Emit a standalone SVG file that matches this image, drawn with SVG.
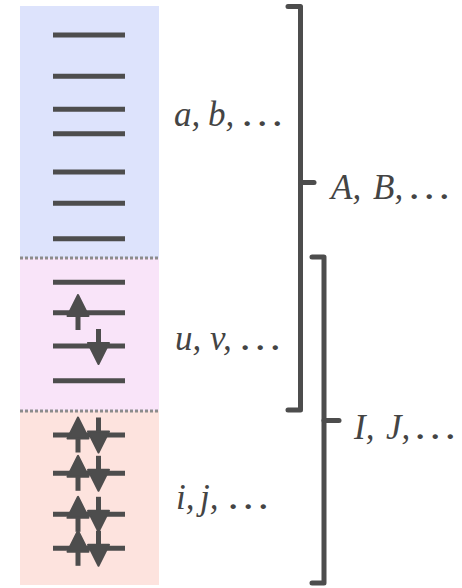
<svg xmlns="http://www.w3.org/2000/svg" xmlns:xlink="http://www.w3.org/1999/xlink" width="462" height="588" viewBox="0 0 462 588">
  <style>
    .lvl { stroke: #4d4d4d; stroke-width: 5; fill: none; }
    .sep { stroke: #8c8c8c; stroke-width: 3; stroke-dasharray: 3 2; fill: none; }
    .arw { stroke: #4d4d4d; stroke-width: 5; fill: none; }
    .head { fill: #4d4d4d; stroke: #4d4d4d; stroke-width: 2; stroke-linejoin: round; }
    .brk { stroke: #4d4d4d; stroke-width: 5; fill: none; stroke-linejoin: round; stroke-linecap: round; }
    .lbl { font-family: "Liberation Serif", "Times New Roman", serif; font-style: italic; font-size: 35px; fill: #444444; }
    .dots { font-size: 40px; }
  </style>
  <defs>
    <!-- spin arrows, centred on the level they sit on -->
    <g id="spin-up">
      <line class="arw" x1="0" y1="17.5" x2="0" y2="-2"/>
      <path class="head" d="M0,-17.5 L-10.5,3.5 L10.5,3.5 Z"/>
    </g>
    <g id="spin-down">
      <line class="arw" x1="0" y1="-17.5" x2="0" y2="2"/>
      <path class="head" d="M0,17.5 L-10.5,-3.5 L10.5,-3.5 Z"/>
    </g>
  </defs>

  <!-- orbital spaces -->
  <g id="virtual">
    <rect x="20" y="6" width="139" height="252" fill="#dde3fc"/>
  </g>
  <g id="active">
    <rect x="20" y="258" width="139" height="153" fill="#f9e4f9"/>
  </g>
  <g id="core">
    <rect x="20" y="411" width="139" height="174" fill="#fde3de"/>
  </g>
  <g id="separators">
    <line class="sep" x1="20" y1="258" x2="159" y2="258"/>
    <line class="sep" x1="20" y1="411" x2="159" y2="411"/>
  </g>

  <!-- energy levels -->
  <g id="levels">
    <line class="lvl" x1="53" y1="35" x2="125" y2="35"/>
    <line class="lvl" x1="53" y1="76.3" x2="125" y2="76.3"/>
    <line class="lvl" x1="53" y1="109.3" x2="125" y2="109.3"/>
    <line class="lvl" x1="53" y1="133.7" x2="125" y2="133.7"/>
    <line class="lvl" x1="53" y1="172" x2="125" y2="172"/>
    <line class="lvl" x1="53" y1="203.3" x2="125" y2="203.3"/>
    <line class="lvl" x1="53" y1="238.7" x2="125" y2="238.7"/>
    <line class="lvl" x1="53" y1="282.3" x2="125" y2="282.3"/>
    <line class="lvl" x1="53" y1="312.7" x2="125" y2="312.7"/>
    <line class="lvl" x1="53" y1="346" x2="125" y2="346"/>
    <line class="lvl" x1="53" y1="380.7" x2="125" y2="380.7"/>
    <line class="lvl" x1="53" y1="435" x2="125" y2="435"/>
    <line class="lvl" x1="53" y1="473.3" x2="125" y2="473.3"/>
    <line class="lvl" x1="53" y1="514.3" x2="125" y2="514.3"/>
    <line class="lvl" x1="53" y1="548.3" x2="125" y2="548.3"/>
  </g>

  <!-- electrons -->
  <g id="electrons">
    <use xlink:href="#spin-up" x="78" y="312.5"/>
    <use xlink:href="#spin-down" x="98.5" y="346.5"/>
    <use xlink:href="#spin-up" x="78" y="435"/>
    <use xlink:href="#spin-down" x="98.5" y="435"/>
    <use xlink:href="#spin-up" x="78" y="473.3"/>
    <use xlink:href="#spin-down" x="98.5" y="473.3"/>
    <use xlink:href="#spin-up" x="78" y="514.3"/>
    <use xlink:href="#spin-down" x="98.5" y="514.3"/>
    <use xlink:href="#spin-up" x="78" y="548.3"/>
    <use xlink:href="#spin-down" x="98.5" y="548.3"/>
  </g>

  <!-- braces grouping the spaces -->
  <g id="connectors">
    <path class="brk" d="M288,6.5 L300.5,6.5 L300.5,410 L288,410"/>
    <path class="brk" d="M300.5,182.5 L314,182.5"/>
    <path class="brk" d="M312,257 L324,257 L324,583 L312,583"/>
    <path class="brk" d="M324,420.5 L339,420.5"/>
  </g>

  <!-- index labels -->
  <g id="label-ab">
    <text class="lbl" y="125.5"><tspan x="174">a,</tspan><tspan x="208">b,</tspan><tspan class="dots" x="243" textLength="40" lengthAdjust="spacingAndGlyphs">…</tspan></text>
  </g>
  <g id="label-AB">
    <text class="lbl" y="198.5"><tspan x="331">A,</tspan><tspan x="373">B,</tspan><tspan class="dots" x="410" textLength="40" lengthAdjust="spacingAndGlyphs">…</tspan></text>
  </g>
  <g id="label-uv">
    <text class="lbl" y="349.5"><tspan x="175">u,</tspan><tspan x="210">v,</tspan><tspan class="dots" x="241" textLength="40" lengthAdjust="spacingAndGlyphs">…</tspan></text>
  </g>
  <g id="label-IJ">
    <text class="lbl" y="439"><tspan x="354">I,</tspan><tspan x="386">J,</tspan><tspan class="dots" x="416" textLength="40" lengthAdjust="spacingAndGlyphs">…</tspan></text>
  </g>
  <g id="label-ij">
    <text class="lbl" y="509"><tspan x="176">i,</tspan><tspan x="200">j,</tspan><tspan class="dots" x="229" textLength="40" lengthAdjust="spacingAndGlyphs">…</tspan></text>
  </g>
</svg>
